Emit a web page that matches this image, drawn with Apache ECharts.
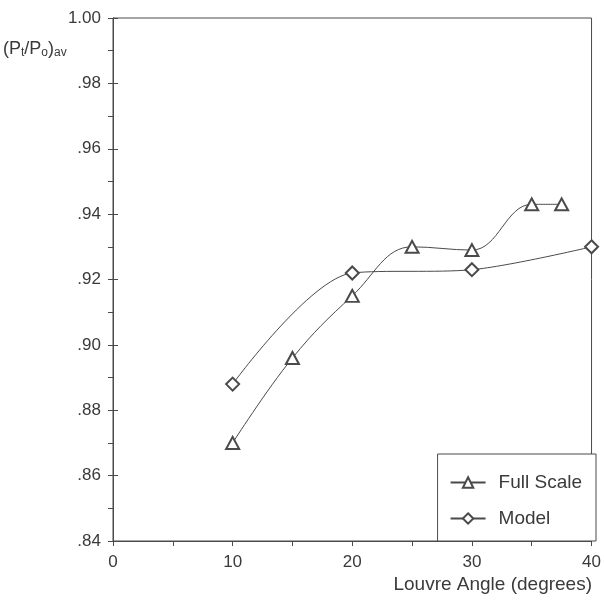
<!DOCTYPE html>
<html><head><meta charset="utf-8">
<script src="https://cdn.jsdelivr.net/npm/echarts@6/dist/echarts.min.js"></script>
<style>html,body{margin:0;padding:0;background:#fff}#c{width:604px;height:600px}</style>
</head><body><div id="c"></div>
<script>
const fullScaleAngles = [10, 15, 20, 25, 30, 35, 37.5];
const fullScaleValues = [0.870, 0.896, 0.915, 0.930, 0.929, 0.943, 0.943];
const modelAngles = [10, 20, 30, 40];
const modelValues = [0.888, 0.922, 0.923, 0.930];
const xTicks = [0, 10, 20, 30, 40];
const yTicks = [0.84, 0.86, 0.88, 0.90, 0.92, 0.94, 0.96, 0.98, 1.00];

const ink = '#4a4a4a';
const txt = '#3a3a3a';
const font = '"Liberation Sans", Arial, sans-serif';
const fmtY = v => v.toFixed(2).replace(/^0/, '');

const chart = echarts.init(document.getElementById('c'), null, {renderer: 'canvas'});
const yBase = {
  type: 'value', min: yTicks[0], max: yTicks[yTicks.length - 1], interval: 0.02,
  splitLine: {show: false},
  axisLine: {show: true, lineStyle: {color: ink, width: 1}}
};
chart.setOption({
  animation: false,
  backgroundColor: '#fff',
  grid: {left: 113, right: 8, top: 18, bottom: 59, show: true, borderColor: ink, borderWidth: 1},
  xAxis: {
    type: 'value', min: xTicks[0], max: xTicks[xTicks.length - 1], interval: 10,
    splitLine: {show: false},
    axisLine: {show: true, lineStyle: {color: ink}},
    axisTick: {show: true, length: 5, lineStyle: {color: ink}},
    minorTick: {show: true, splitNumber: 2, length: 5, lineStyle: {color: ink}},
    axisLabel: {color: txt, fontFamily: font, fontSize: 17, margin: 13}
  },
  yAxis: [
    Object.assign({}, yBase, {
      axisTick: {show: true, length: 5, lineStyle: {color: ink}},
      minorTick: {show: true, splitNumber: 2, length: 5, lineStyle: {color: ink}},
      axisLabel: {color: txt, fontFamily: font, fontSize: 17, margin: 12, formatter: fmtY}
    }),
    Object.assign({}, yBase, {
      position: 'left',
      axisTick: {show: true, inside: true, length: 5, lineStyle: {color: ink}},
      axisLabel: {show: false}
    })
  ],
  legend: {
    orient: 'vertical', right: 8, bottom: 59,
    backgroundColor: '#fff',
    borderColor: ink, borderWidth: 1, borderRadius: 0,
    padding: [19, 14, 13, 12], itemGap: 17,
    itemWidth: 35, itemHeight: 13,
    textStyle: {color: txt, fontFamily: font, fontSize: 19, padding: [0, 0, 0, 8]},
    data: ['Full Scale', 'Model']
  },
  graphic: [
    {type: 'text', left: 3, top: 40, style: {
      text: '{m|(P}{s|t}{m|/P}{s|o}{m|)}{s|av}',
      rich: {
        m: {fontFamily: font, fontSize: 18, fill: txt},
        s: {fontFamily: font, fontSize: 12, fill: txt, padding: [7, 0, 0, 0]}
      }
    }},
    {type: 'text', right: 12, top: 575, style: {
      text: 'Louvre Angle (degrees)', fontFamily: font, fontSize: 19, fill: txt
    }}
  ],
  series: [
    {
      name: 'Full Scale', type: 'line', smooth: 0.4,
      data: fullScaleAngles.map((a, i) => [a, fullScaleValues[i]]),
      symbol: 'emptyTriangle', symbolSize: [13, 12],
      lineStyle: {color: ink, width: 1},
      itemStyle: {color: ink, borderColor: ink, borderWidth: 1}
    },
    {
      name: 'Model', type: 'line', smooth: 0.3,
      data: modelAngles.map((a, i) => [a, modelValues[i]]),
      symbol: 'emptyDiamond', symbolSize: 13,
      lineStyle: {color: ink, width: 1},
      itemStyle: {color: ink, borderColor: ink, borderWidth: 1}
    }
  ]
});
</script></body></html>
